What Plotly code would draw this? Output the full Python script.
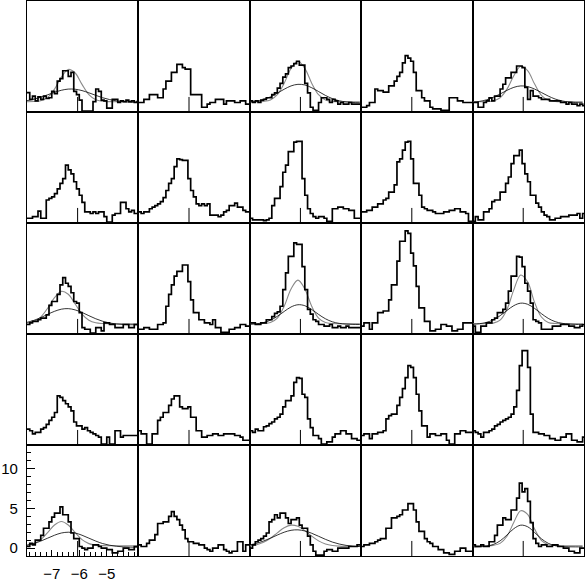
import numpy as np
import plotly.graph_objects as go
from plotly.subplots import make_subplots

# velocity bins (left edges), 0.1 wide
VEL_START = -7.9
BIN_WIDTH = 0.1
N_BINS = 41
X_RANGE = [-7.9, -3.85]
Y_RANGE = [-1, 13]
LINE_CENTER = -6.06
CENTER_MARK = [-1.0, 0.9]

X_TICKS = [-7, -6, -5]
X_TICK_TEXT = ["\u22127", "\u22126", "\u22125"]
Y_TICKS = [0, 5, 10]

# spectra, row 1 = top
SPEC_R1C1 = [1.45, 0.6, 1.0, 0.4, 0.9, 0.6, 1.0, 0.7, 0.8, 1.6, 1.3, 2.9, 3.2, 4.2, 4.2, 3.5, 4.0, 1.6, 1.2, 0.5,
             -0.9, -0.9, -0.9, -0.9, 0.3, 1.9, 1.6, 0.5, 0.4, -0.5, -0.5, 0.6, 0.6, 0.2, 0.4, 0.3, 0.5, 0.3, 0.4, 0.2, 0.3]
SPEC_R1C2 = [0.2, 0.2, 0.6, 0.6, 1.2, 1.2, 1.2, 0.8, 0.8, 1.9, 2.9, 2.9, 4.0, 4.0, 5.0, 5.0, 4.6, 4.4, 4.4, 1.2,
             1.2, 1.2, 1.2, -0.4, -0.4, 0.0, 0.2, 0.2, 0.6, 0.6, 0.6, 0.0, 0.4, 0.4, 0.4, 0.2, 0.2, 0.4, 0.4, 0.0, 0.0]
SPEC_R1C3 = [0.4, 0.2, 0.4, 0.2, 0.5, 0.6, 0.8, 0.8, 1.2, 1.4, 2.0, 2.6, 3.4, 3.8, 4.6, 4.8, 5.1, 5.4, 4.9, 4.9,
             2.6, 1.4, -0.4, -0.8, -0.8, 0.2, 0.8, 0.8, 0.6, 0.2, 0.6, 0.4, 0.0, 0.2, 0.0, 0.0, 0.2, 0.0, 0.0, 0.0, 0.0]
SPEC_R1C4 = [-0.4, -0.4, -0.2, 0.2, 0.2, 1.9, 1.7, 1.7, 1.5, 1.5, 2.3, 2.3, 2.9, 3.5, 4.0, 5.2, 6.1, 5.8, 5.4, 4.0,
             1.7, 1.7, 0.8, 0.4, 0.4, -0.4, -0.6, -0.6, -0.6, -0.8, -0.8, -0.8, 0.8, 0.8, 0.8, 0.4, 0.4, 0.2, 0.2, 0.2, 0.2]
SPEC_R1C5 = [0.2, 0.2, -0.4, -0.4, 0.2, 0.4, 0.8, 0.4, 1.0, 1.0, 1.9, 2.5, 3.3, 3.3, 4.0, 4.0, 4.8, 4.8, 4.6, 2.1,
             0.6, 1.7, 1.0, 1.0, 0.8, 0.6, 0.6, 0.6, 0.4, 0.4, 0.4, 0.4, 0.2, 0.2, 0.0, 0.2, 0.0, 0.0, -0.2, 0.0, -0.2]

SPEC_R2C1 = [-0.4, -0.4, -0.2, -0.2, 0.5, -0.4, -0.4, 1.9, 2.1, 2.3, 2.7, 3.3, 4.0, 4.6, 6.3, 5.7, 5.2, 4.2, 3.3, 2.5,
             1.6, 0.4, 0.4, 0.2, 0.4, 0.2, 0.4, 0.4, -0.2, -0.9, -0.9, 0.0, 0.2, 0.2, 1.6, 1.6, 0.8, 0.4, 0.6, 0.2, 0.2]
SPEC_R2C2 = [0.4, 0.2, 0.4, 0.4, 0.8, 1.0, 1.2, 1.4, 1.7, 2.2, 3.1, 4.0, 4.6, 6.1, 7.1, 7.0, 6.9, 6.9, 4.6, 3.1,
             2.3, 1.4, 1.2, 1.4, 1.2, 1.4, 0.0, 0.0, 0.0, -0.2, 0.0, 0.4, 0.6, 1.2, 1.2, 1.5, 1.0, 1.0, 0.6, 0.4, 0.4]
SPEC_R2C3 = [-0.4, -0.6, -0.6, -0.6, -0.6, -0.7, -0.6, -0.4, 1.2, 2.1, 2.1, 3.6, 5.4, 6.3, 8.0, 8.0, 9.2, 9.3, 9.3, 4.6,
             2.5, 0.8, 0.2, -0.2, -0.4, -0.2, -0.2, -0.4, -0.8, -0.8, 0.8, 0.8, 1.0, 1.0, 0.8, 0.8, 0.6, 0.6, -0.4, -0.4, -0.4]
SPEC_R2C4 = [0.4, 0.4, 0.6, 0.6, 1.0, 1.0, 1.4, 1.4, 1.9, 2.1, 2.9, 2.9, 3.8, 6.7, 7.1, 8.2, 9.2, 9.3, 7.1, 4.0,
             4.0, 2.5, 1.0, 0.8, 0.6, 0.6, 0.4, 0.2, 0.2, 0.2, 0.4, 0.4, 0.6, 0.6, 0.8, 0.8, 0.4, 0.4, 0.2, -0.8, -0.8]
SPEC_R2C5 = [-0.8, -0.2, -0.6, -0.6, 0.4, 0.4, 0.8, 1.7, 1.9, 1.9, 2.9, 2.9, 4.0, 4.8, 6.5, 7.5, 7.5, 8.2, 6.5, 5.2,
             4.2, 2.5, 2.5, 1.5, 1.0, 0.4, 0.0, -0.2, -0.6, -0.6, -0.4, -0.4, -0.2, -0.2, -0.2, 0.0, 0.0, 0.0, 0.2, -0.4, 0.2]

SPEC_R3C1 = [0.2, 0.4, 0.6, 0.6, 0.8, 1.0, 1.0, 1.4, 2.6, 3.1, 3.1, 4.0, 5.2, 6.1, 5.4, 5.0, 4.2, 3.1, 2.9, 1.7,
             -0.2, -0.4, -0.4, -0.9, -0.9, -0.2, -0.2, -0.6, 0.4, 0.4, 0.2, 0.2, -0.2, -0.2, -0.2, 0.2, 0.2, -0.2, -0.2, 0.2, 0.2]
SPEC_R3C2 = [-0.4, -0.4, -0.2, -0.2, -0.4, -0.4, -0.4, 0.2, 0.2, 0.4, 2.5, 4.0, 5.2, 6.3, 6.9, 6.9, 7.7, 7.7, 5.6, 3.3,
             1.7, 1.7, 0.8, 0.8, 0.4, 0.4, 0.2, 0.8, -0.2, -0.2, -0.8, -0.8, -0.8, -0.4, -0.4, -0.2, -0.2, 0.2, 0.2, 0.0, 0.0]
SPEC_R3C3 = [0.4, 0.4, 0.2, 0.2, 0.4, 0.4, 0.8, 0.8, 1.2, 1.6, 1.8, 2.5, 4.6, 6.7, 8.8, 8.8, 10.5, 10.3, 10.3, 7.5,
             4.6, 2.1, 1.5, 0.8, 0.6, 0.2, 0.2, 0.0, 0.0, 0.2, -0.2, -0.2, 0.0, -0.2, -0.2, 0.0, -0.2, -0.2, -0.2, -0.2, -0.2]
SPEC_R3C4 = [0.0, 0.4, 0.4, -0.4, 0.4, 0.4, 1.7, 1.7, 1.9, 1.9, 3.3, 5.2, 5.2, 8.2, 10.7, 10.7, 12.0, 11.7, 9.2, 7.6,
             5.0, 2.3, 2.3, 0.6, 0.6, -0.6, -0.6, -0.4, -0.4, 0.2, 0.2, 0.0, 0.0, -0.6, -0.6, -0.4, -0.4, 0.4, 0.4, 0.4, 0.4]
SPEC_R3C5 = [0.0, -0.8, -0.8, 0.0, 0.0, 0.4, 0.4, 0.8, 1.0, 1.7, 1.7, 2.1, 2.9, 4.4, 6.3, 6.3, 8.8, 8.7, 7.5, 5.4,
             4.4, 2.9, 0.8, 0.6, 0.4, -0.4, -0.4, -0.4, -0.4, 0.0, 0.0, 0.0, 0.2, 0.2, 0.2, 0.0, 0.0, -0.2, -0.2, 0.0, 0.2]

SPEC_R4C1 = [1.0, 0.8, 0.4, 0.6, 0.6, 1.0, 1.2, 1.6, 2.1, 2.5, 3.1, 5.2, 5.0, 4.6, 4.2, 3.8, 3.3, 1.9, 1.4, 1.4,
             1.0, 1.2, 0.8, 0.6, 0.4, 0.2, 0.0, -0.9, -0.9, 0.0, -0.9, -0.9, 0.8, 0.8, 0.0, 0.2, 0.2, 0.2, 0.2, 0.2, 0.2]
SPEC_R4C2 = [0.8, 0.4, 0.4, -0.9, -0.9, 0.4, 0.4, 2.1, 2.5, 3.1, 3.1, 4.0, 4.8, 5.2, 5.2, 3.8, 3.6, 3.6, 3.8, 2.5,
             2.5, 0.8, 0.8, 0.0, 0.0, 0.2, 0.2, 0.4, 0.4, 0.2, 0.2, 0.4, 0.4, 0.4, 0.4, 0.2, 0.2, 0.0, -0.4, -0.4, -0.4]
SPEC_R4C3 = [0.8, 0.6, 1.0, 0.8, 0.8, 1.3, 1.4, 1.7, 1.9, 2.3, 2.5, 2.9, 3.8, 4.6, 4.6, 5.2, 6.9, 7.5, 7.4, 5.4,
             5.0, 2.3, 1.2, 0.2, 0.2, -0.2, -0.9, -0.9, -0.6, -0.6, 0.0, 0.4, 0.4, 0.8, 0.8, 0.4, 0.4, -0.2, -0.2, -0.4, -0.4]
SPEC_R4C4 = [0.2, 0.4, 0.4, -0.2, 0.4, 0.4, 0.6, 0.6, 0.8, 2.3, 2.7, 2.9, 2.9, 4.0, 5.0, 6.1, 7.5, 9.0, 8.8, 7.5,
             5.4, 3.3, 1.4, 1.4, 0.0, 0.4, 0.4, 0.2, 0.2, 0.4, 0.4, -0.4, -0.9, -0.9, 0.4, 0.4, 0.8, 0.8, 0.6, 0.6, 0.6]
SPEC_R4C5 = [0.8, 0.6, 0.4, 0.0, 0.6, 0.6, 0.8, 1.0, 1.4, 1.6, 1.9, 2.1, 2.3, 2.5, 2.9, 3.8, 5.9, 9.0, 10.9, 10.9,
             8.8, 2.9, 0.6, 0.6, 0.4, 0.4, 0.2, 0.2, -0.2, -0.2, -0.4, -0.4, 0.0, 0.0, 0.4, 0.4, -0.4, -0.4, -0.6, -0.6, 0.0]

SPEC_R5C1 = [0.2, 0.6, 0.4, 1.0, 1.0, 1.6, 2.5, 2.5, 3.3, 3.9, 4.4, 4.4, 5.2, 4.2, 4.2, 3.3, 1.9, 1.2, 1.2, 0.2,
             0.0, -0.2, 0.0, 0.0, 0.4, 0.4, 0.2, 0.0, 0.0, -0.2, -0.2, -0.6, -0.6, -0.4, -0.4, 0.0, 0.0, -0.2, -0.2, 0.2, 0.2]
SPEC_R5C2 = [0.4, 0.2, 0.2, 0.6, 1.0, 1.0, 1.7, 3.1, 3.1, 3.3, 3.3, 4.0, 4.6, 4.0, 3.6, 2.9, 2.3, 1.2, 0.8, 0.8,
             0.6, 0.6, 0.4, 0.4, 0.0, -0.2, -0.4, 0.0, 0.0, 0.4, 0.4, -0.2, -0.4, -0.6, -0.4, -0.4, 0.8, 0.8, -0.4, 0.4, 0.4]
SPEC_R5C3 = [0.0, 0.4, 0.8, 1.0, 1.2, 1.5, 1.9, 3.3, 3.6, 4.2, 3.8, 4.4, 4.4, 3.8, 3.1, 3.6, 3.6, 3.8, 2.9, 2.5,
             2.5, 1.5, 0.4, -0.4, -0.9, -0.9, -0.9, -0.4, -0.2, -0.2, -0.4, -0.4, 0.0, 0.0, 0.0, 0.0, 0.2, 0.2, 0.2, 0.4, 0.4]
SPEC_R5C4 = [0.2, 0.4, 0.4, 0.6, 0.6, 0.8, 1.0, 1.2, 1.2, 2.5, 2.5, 3.8, 3.8, 4.0, 4.2, 4.8, 4.8, 5.6, 5.6, 4.8,
             3.3, 2.1, 2.1, 1.2, 0.8, 0.6, 0.2, 0.2, -0.2, -0.2, -0.6, -0.6, -0.8, -0.8, -0.4, -0.4, 0.0, 0.0, -0.4, -0.4, -0.4]
SPEC_R5C5 = [0.4, 0.2, 0.2, 0.4, 0.2, 0.2, 0.8, 0.8, 1.6, 2.9, 2.9, 3.8, 3.6, 3.6, 4.8, 4.8, 6.3, 8.2, 7.1, 7.5,
             5.9, 3.2, 1.2, 0.6, 0.2, 0.4, 0.4, 0.2, 0.2, 0.4, 0.4, 0.2, 0.2, 0.0, 0.0, -0.4, -0.4, -0.6, -0.6, 0.0, 0.0]

# model profiles sampled on a coarse velocity grid
FIT_X = [-7.9, -7.65, -7.4, -7.15, -6.9, -6.65, -6.4, -6.15, -5.9, -5.65, -5.4, -5.15, -4.9, -4.65, -4.4, -4.15, -3.9]

NARROW_R1C1 = [0.30, 0.32, 0.43, 0.85, 1.89, 3.40, 4.37, 3.92, 2.48, 1.19, 0.54, 0.35, 0.31, 0.30, 0.30, 0.30, 0.30]
BROAD_R1C1 = [0.43, 0.61, 0.86, 1.17, 1.48, 1.74, 1.89, 1.87, 1.70, 1.42, 1.10, 0.80, 0.57, 0.40, 0.30, 0.25, 0.22]
NARROW_R1C3 = [0.30, 0.30, 0.34, 0.52, 1.18, 2.64, 4.50, 5.40, 4.50, 2.64, 1.18, 0.52, 0.34, 0.30, 0.30, 0.30, 0.30]
BROAD_R1C3 = [0.24, 0.35, 0.57, 0.91, 1.38, 1.87, 2.29, 2.49, 2.41, 2.06, 1.58, 1.09, 0.69, 0.42, 0.27, 0.20, 0.17]
NARROW_R1C5 = [0.30, 0.30, 0.31, 0.40, 0.80, 1.88, 3.59, 4.76, 4.22, 2.55, 1.11, 0.50, 0.33, 0.30, 0.30, 0.30, 0.30]
BROAD_R1C5 = [0.23, 0.34, 0.53, 0.85, 1.27, 1.73, 2.11, 2.29, 2.21, 1.90, 1.46, 1.01, 0.64, 0.40, 0.26, 0.19, 0.17]

NARROW_R3C1 = [0.36, 0.57, 1.14, 2.25, 3.58, 4.38, 4.01, 2.79, 1.52, 0.74, 0.41, 0.32, 0.30, 0.30, 0.30, 0.30, 0.30]
BROAD_R3C1 = [0.47, 0.72, 1.06, 1.48, 1.86, 2.13, 2.20, 2.04, 1.72, 1.31, 0.92, 0.61, 0.39, 0.26, 0.20, 0.17, 0.16]
NARROW_R3C3 = [0.30, 0.30, 0.32, 0.44, 1.00, 2.50, 4.68, 5.80, 4.68, 2.50, 1.00, 0.44, 0.32, 0.30, 0.30, 0.30, 0.30]
BROAD_R3C3 = [0.23, 0.29, 0.44, 0.74, 1.23, 1.84, 2.41, 2.69, 2.57, 2.09, 1.47, 0.92, 0.54, 0.34, 0.25, 0.21, 0.20]
NARROW_R3C5 = [0.30, 0.30, 0.31, 0.37, 0.75, 2.10, 4.60, 6.44, 5.57, 3.02, 1.14, 0.46, 0.32, 0.30, 0.30, 0.30, 0.30]
BROAD_R3C5 = [0.23, 0.30, 0.46, 0.78, 1.31, 1.97, 2.58, 2.89, 2.75, 2.24, 1.57, 0.97, 0.56, 0.35, 0.25, 0.21, 0.20]

NARROW_R5C1 = [0.36, 0.56, 1.06, 1.95, 2.91, 3.35, 2.91, 1.95, 1.06, 0.56, 0.36, 0.31, 0.30, 0.30, 0.30, 0.30, 0.30]
BROAD_R5C1 = [0.36, 0.57, 0.88, 1.25, 1.62, 1.90, 2.00, 1.90, 1.62, 1.25, 0.88, 0.57, 0.36, 0.23, 0.15, 0.12, 0.11]
NARROW_R5C3 = [0.28, 0.42, 0.72, 1.24, 1.92, 2.56, 2.89, 2.74, 2.20, 1.50, 0.91, 0.52, 0.32, 0.24, 0.21, 0.20, 0.20]
BROAD_R5C3 = [0.40, 0.60, 0.89, 1.25, 1.64, 2.00, 2.24, 2.30, 2.16, 1.87, 1.49, 1.10, 0.76, 0.51, 0.34, 0.24, 0.19]
NARROW_R5C5 = [0.30, 0.30, 0.30, 0.34, 0.59, 1.49, 3.27, 4.71, 4.24, 2.42, 0.98, 0.43, 0.32, 0.30, 0.30, 0.30, 0.30]
BROAD_R5C5 = [0.15, 0.17, 0.24, 0.45, 0.91, 1.65, 2.45, 2.89, 2.69, 1.98, 1.18, 0.60, 0.30, 0.19, 0.16, 0.15, 0.15]

SPECTRA = [
    [SPEC_R1C1, SPEC_R1C2, SPEC_R1C3, SPEC_R1C4, SPEC_R1C5],
    [SPEC_R2C1, SPEC_R2C2, SPEC_R2C3, SPEC_R2C4, SPEC_R2C5],
    [SPEC_R3C1, SPEC_R3C2, SPEC_R3C3, SPEC_R3C4, SPEC_R3C5],
    [SPEC_R4C1, SPEC_R4C2, SPEC_R4C3, SPEC_R4C4, SPEC_R4C5],
    [SPEC_R5C1, SPEC_R5C2, SPEC_R5C3, SPEC_R5C4, SPEC_R5C5],
]
FITS = {
    (1, 1): (NARROW_R1C1, BROAD_R1C1), (1, 3): (NARROW_R1C3, BROAD_R1C3), (1, 5): (NARROW_R1C5, BROAD_R1C5),
    (3, 1): (NARROW_R3C1, BROAD_R3C1), (3, 3): (NARROW_R3C3, BROAD_R3C3), (3, 5): (NARROW_R3C5, BROAD_R3C5),
    (5, 1): (NARROW_R5C1, BROAD_R5C1), (5, 3): (NARROW_R5C3, BROAD_R5C3), (5, 5): (NARROW_R5C5, BROAD_R5C5),
}

FONT = "Liberation Sans"

edges = np.round(VEL_START + BIN_WIDTH * np.arange(N_BINS + 1), 3)

fig = make_subplots(rows=5, cols=5, horizontal_spacing=0, vertical_spacing=0)

for r in range(5):
    for c in range(5):
        row, col = r + 1, c + 1
        if (row, col) in FITS:
            narrow, broad = FITS[(row, col)]
            fig.add_trace(go.Scatter(x=FIT_X, y=narrow, mode="lines", showlegend=False,
                                     line=dict(color="#8a8a8a", width=1.1, shape="spline")),
                          row=row, col=col)
            fig.add_trace(go.Scatter(x=FIT_X, y=broad, mode="lines", showlegend=False,
                                     line=dict(color="black", width=0.8, shape="spline")),
                          row=row, col=col)
        spec = SPECTRA[r][c]
        fig.add_trace(go.Scatter(x=edges, y=list(spec) + [spec[-1]], mode="lines", showlegend=False,
                                 line=dict(color="black", width=1.7, shape="hv")),
                      row=row, col=col)
        # line-centre marker
        fig.add_trace(go.Scatter(x=[LINE_CENTER, LINE_CENTER], y=CENTER_MARK, mode="lines", showlegend=False,
                                 line=dict(color="black", width=1)),
                      row=row, col=col)

axis_style = dict(showline=True, mirror=True, linecolor="black", linewidth=1.3, automargin=False,
                  showgrid=False, zeroline=False, showticklabels=False, ticks="")
fig.update_xaxes(range=X_RANGE, **axis_style)
fig.update_yaxes(range=Y_RANGE, **axis_style)

fig.update_xaxes(row=5, col=1, showticklabels=True, ticks="inside", tickvals=X_TICKS, ticktext=X_TICK_TEXT,
                 ticklen=6, tickwidth=1, tickcolor="black", ticklabelstandoff=4,
                 minor=dict(ticks="inside", tick0=-7, dtick=0.2, ticklen=4, tickwidth=1, tickcolor="black"),
                 tickfont=dict(family=FONT, size=15, color="black"))
fig.update_yaxes(row=5, col=1, showticklabels=True, ticks="inside", tickvals=Y_TICKS,
                 ticklen=8, tickwidth=1, tickcolor="black", ticklabelstandoff=5,
                 minor=dict(ticks="inside", tick0=0, dtick=1, ticklen=4, tickwidth=1, tickcolor="black"),
                 tickfont=dict(family=FONT, size=15, color="black"))

fig.update_layout(
    width=585, height=581,
    margin=dict(l=27, r=1, t=1, b=25),
    paper_bgcolor="white", plot_bgcolor="white",
    showlegend=False,
)

# the page's default body margin would push the figure off the window
fig.write_html("out.html", config={"displayModeBar": False},
               post_script="document.body.style.margin='0';document.body.style.overflow='hidden';")
